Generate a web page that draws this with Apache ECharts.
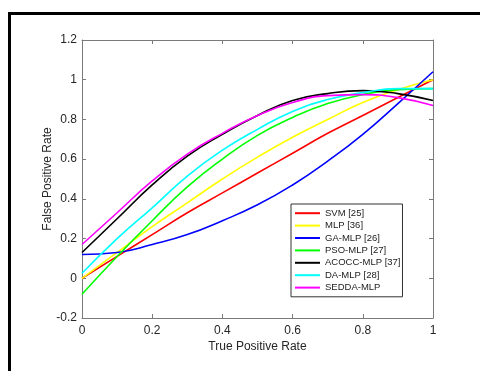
<!DOCTYPE html>
<html>
<head>
<meta charset="utf-8">
<script src="https://cdn.jsdelivr.net/npm/echarts@6/dist/echarts.min.js"></script>
<style>
  html, body { margin: 0; padding: 0; background: #fff; }
  #chart { width: 480px; height: 371px; }
</style>
</head>
<body>
<div id="chart"></div>
<script>
// x positions (True Positive Rate)
var xs = [0, 0.1, 0.2, 0.3, 0.4, 0.5, 0.6, 0.7, 0.8, 0.9, 1.0];

// curves
var svm   = [0, 0.11, 0.22, 0.33, 0.43, 0.53, 0.63, 0.73, 0.82, 0.91, 1.0];
var mlp   = [0, 0.13, 0.26, 0.38, 0.50, 0.61, 0.71, 0.80, 0.885, 0.95, 1.0];
var gaMlp = [0.12, 0.13, 0.17, 0.22, 0.29, 0.37, 0.47, 0.59, 0.725, 0.88, 1.04];
var psoMlp = [-0.08, 0.11, 0.29, 0.46, 0.60, 0.72, 0.81, 0.88, 0.925, 0.95, 0.955];
var acoccMlp = [0.13, 0.30, 0.47, 0.615, 0.725, 0.82, 0.895, 0.93, 0.945, 0.93, 0.895];
var daMlp = [0.025, 0.20, 0.355, 0.515, 0.645, 0.75, 0.84, 0.90, 0.935, 0.955, 0.955];
var seddaMlp = [0.17, 0.33, 0.49, 0.625, 0.73, 0.82, 0.885, 0.92, 0.925, 0.91, 0.87];

var names = ['SVM [25]', 'MLP [36]', 'GA-MLP [26]', 'PSO-MLP [27]', 'ACOCC-MLP [37]', 'DA-MLP [28]', 'SEDDA-MLP'];
var colors = ['#ff0000', '#ffff00', '#0000ff', '#00ff00', '#000000', '#00ffff', '#ff00ff'];
var curves = [svm, mlp, gaMlp, psoMlp, acoccMlp, daMlp, seddaMlp];

var font = 'Liberation Sans, Arial, sans-serif';
var axisColor = '#7a7a7a';

function pairs(ys) {
  return xs.map(function (x, i) { return [x, ys[i]]; });
}

var series = curves.map(function (ys, i) {
  return {
    name: names[i],
    type: 'line',
    data: pairs(ys),
    smooth: true,
    symbol: 'none',
    lineStyle: { color: colors[i], width: 1.6 },
    itemStyle: { color: colors[i] },
    animation: false
  };
});

function fmt(v) {
  return String(Math.round(v * 10) / 10);
}

var axisLine = { show: true, onZero: false, lineStyle: { color: axisColor, width: 1 } };
var tick = { show: true, inside: true, length: 4, lineStyle: { color: axisColor } };

var chart = echarts.init(document.getElementById('chart'));
chart.setOption({
  backgroundColor: '#fff',
  animation: false,
  graphic: [{
    type: 'rect',
    shape: { x: 9.5, y: 13.5, width: 520, height: 420 },
    style: { fill: 'none', stroke: '#000', lineWidth: 3 },
    silent: true
  }],
  grid: { left: 82, right: 47, top: 40, bottom: 53 },
  legend: {
    data: names.map(function (n) { return { name: n, icon: 'rect' }; }),
    orient: 'vertical',
    left: 291,
    top: 204,
    padding: [4, 2, 4, 4],
    itemGap: 2,
    itemWidth: 25,
    itemHeight: 2,
    backgroundColor: '#fff',
    borderColor: '#333',
    borderWidth: 1,
    borderRadius: 0,
    textStyle: { fontFamily: font, fontSize: 9.5, color: '#222', lineHeight: 10.4 }
  },
  xAxis: [{
    type: 'value',
    min: 0, max: 1, interval: 0.2,
    name: 'True Positive Rate',
    nameLocation: 'middle',
    nameGap: 23,
    nameMoveOverlap: false,
    nameTextStyle: { fontFamily: font, fontSize: 12, color: '#262626' },
    axisLine: axisLine,
    axisTick: tick,
    axisLabel: { fontFamily: font, fontSize: 12, color: '#262626', margin: 7, formatter: fmt },
    splitLine: { show: false }
  }, {
    type: 'value',
    position: 'top',
    min: 0, max: 1, interval: 0.2,
    axisLine: axisLine,
    axisTick: tick,
    axisLabel: { show: false },
    splitLine: { show: false }
  }],
  yAxis: [{
    type: 'value',
    position: 'left',
    min: -0.2, max: 1.2, interval: 0.2,
    name: 'False Positive Rate',
    nameLocation: 'middle',
    nameGap: 28,
    nameMoveOverlap: false,
    nameTextStyle: { fontFamily: font, fontSize: 12, color: '#262626' },
    axisLine: axisLine,
    axisTick: tick,
    axisLabel: { fontFamily: font, fontSize: 12, color: '#262626', margin: 5, formatter: fmt },
    splitLine: { show: false }
  }, {
    type: 'value',
    position: 'right',
    min: -0.2, max: 1.2, interval: 0.2,
    axisLine: axisLine,
    axisTick: tick,
    axisLabel: { show: false },
    splitLine: { show: false }
  }],
  series: series
});
</script>
</body>
</html>
